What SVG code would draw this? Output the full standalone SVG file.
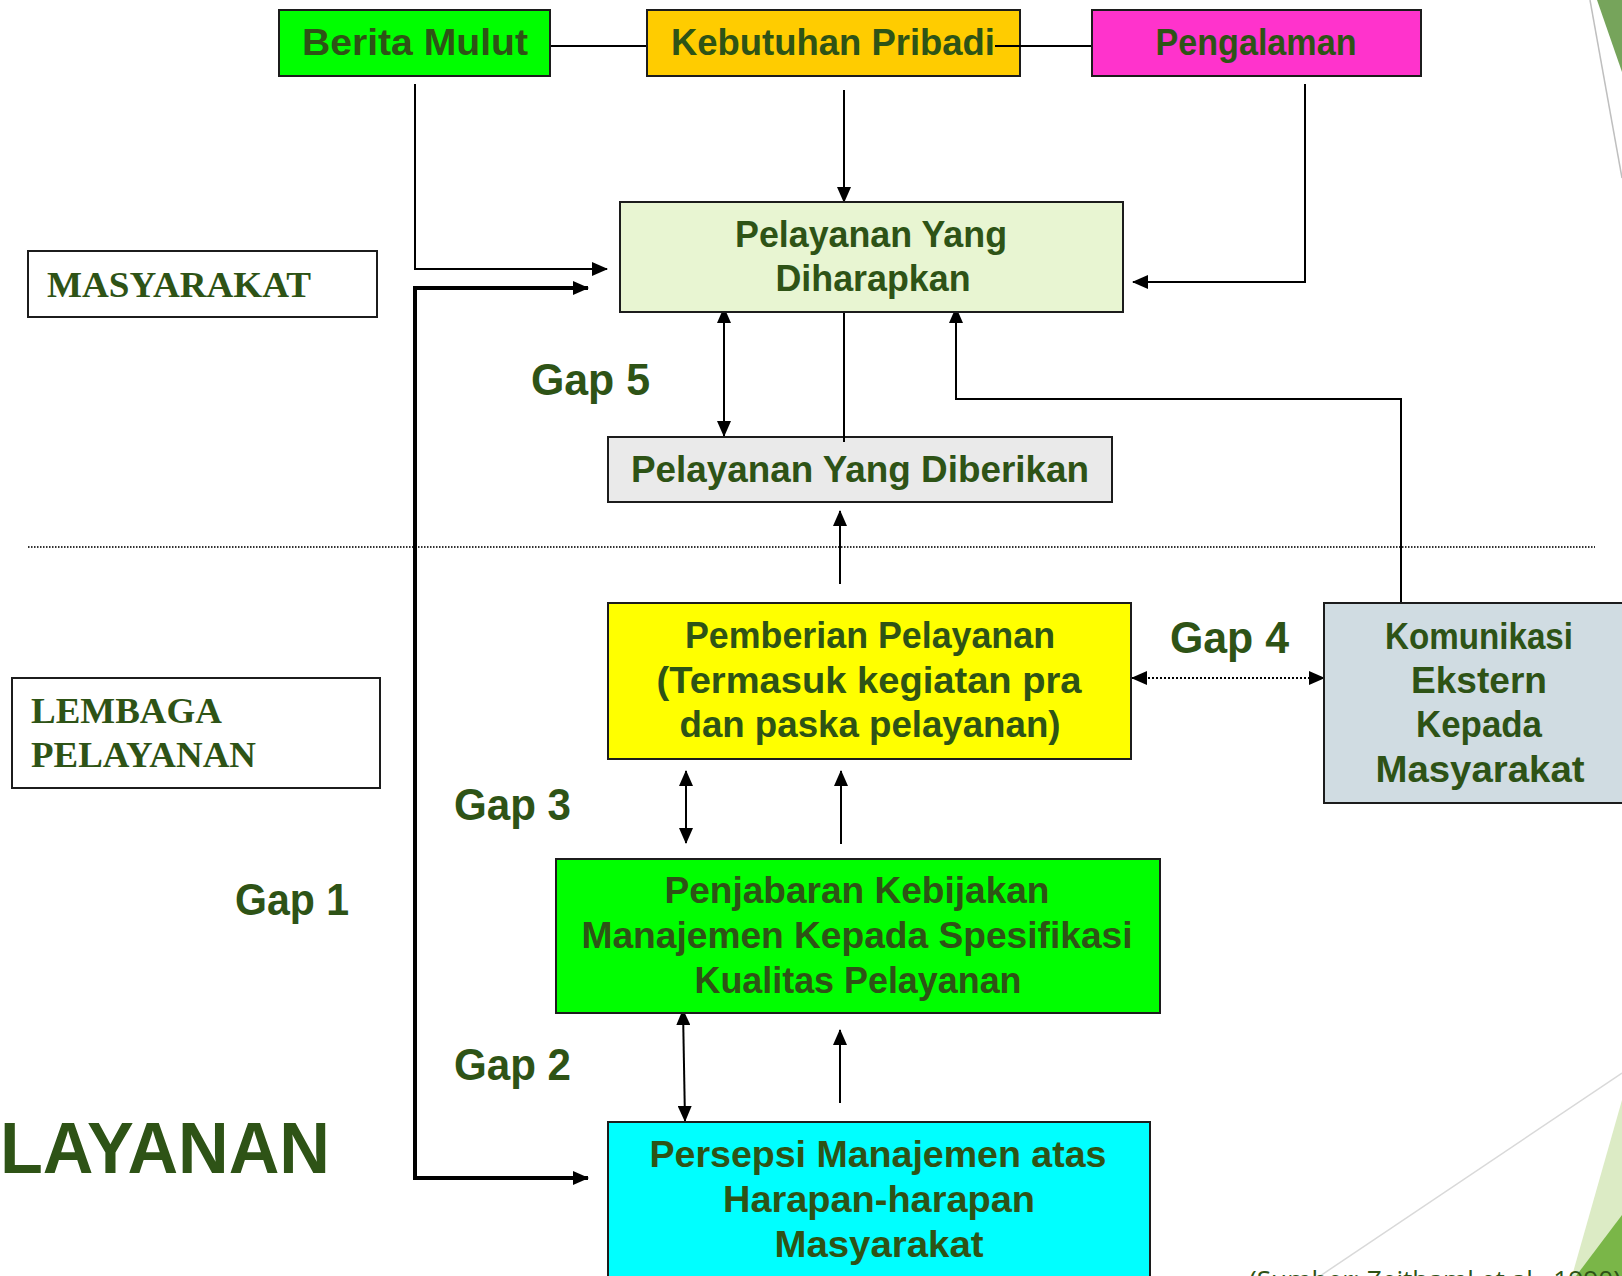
<svg xmlns="http://www.w3.org/2000/svg" width="1622" height="1276" viewBox="0 0 1622 1276">
<style>
.box{stroke:#1c1c1c;stroke-width:2}
.t{font-family:"Liberation Sans",Arial,sans-serif;font-weight:bold;font-size:37px;fill:#2E5316;text-anchor:middle}
.gap{font-family:"Liberation Sans",Arial,sans-serif;font-weight:bold;font-size:44px;fill:#2E5316}
.serif{font-family:"Liberation Serif","Times New Roman",serif;font-weight:bold;font-size:36px;fill:#2E5316}
.c{fill:none;stroke:#000;stroke-width:2}
.thick{fill:none;stroke:#000;stroke-width:4}
</style>
<defs>
<marker id="ah" viewBox="0 0 16 14" refX="15" refY="7" markerWidth="16" markerHeight="14" markerUnits="userSpaceOnUse" orient="auto-start-reverse">
<path d="M0,0 L16,7 L0,14 z" fill="#000"/>
</marker>
</defs>
<rect width="1622" height="1276" fill="#fff"/>
<g id="decor">
<polygon points="1597,0 1622,0 1622,72" fill="#76A45B"/>
<line x1="1590" y1="0" x2="1622" y2="178" stroke="#BFBFBF" stroke-width="1.5"/>
<polygon points="1622,1100 1572,1276 1622,1276" fill="#DCEBC5"/>
<polygon points="1622,1215 1576,1276 1622,1276" fill="#7AB648"/>
<line x1="1622" y1="1073" x2="1320" y2="1276" stroke="#D9D9D9" stroke-width="1.5"/>
</g>
<g id="separator">
<line x1="28" y1="547" x2="1595" y2="547" stroke="#333" stroke-width="2" stroke-dasharray="1.5 1.5"/>
</g>
<g id="connectors">
<line class="c" x1="550" y1="46" x2="647" y2="46"/>
<path class="c" d="M415,84 V269 H607" marker-end="url(#ah)"/>
<path class="thick" d="M588,288 H415 V1178 H588" marker-start="url(#ah)" marker-end="url(#ah)"/>
<path class="c" d="M844,90 V202" marker-end="url(#ah)"/>
<path class="c" d="M1305,84 V282 H1133" marker-end="url(#ah)"/>
<path class="c" d="M724,308 V436" marker-start="url(#ah)" marker-end="url(#ah)"/>
<path class="c" d="M844,312 V442"/>
<path class="c" d="M1401,603 V399 H956 V308" marker-end="url(#ah)"/>
<path class="c" d="M840,584 V511" marker-end="url(#ah)"/>
<path class="c" d="M1132,678 H1324" stroke-dasharray="2 2" marker-start="url(#ah)" marker-end="url(#ah)"/>
<path class="c" d="M686,771 V843" marker-start="url(#ah)" marker-end="url(#ah)"/>
<path class="c" d="M841,844 V771" marker-end="url(#ah)"/>
<path class="c" d="M683,1010 L685,1121" marker-start="url(#ah)" marker-end="url(#ah)"/>
<path class="c" d="M840,1103 V1030" marker-end="url(#ah)"/>
</g>
<g id="berita-mulut">
<rect class="box" x="279" y="10" width="271" height="66" fill="#00FF00"/>
<text class="t" x="415" y="55" textLength="226" lengthAdjust="spacingAndGlyphs">Berita Mulut</text>
</g>
<g id="kebutuhan-pribadi">
<rect class="box" x="647" y="10" width="373" height="66" fill="#FFCC00"/>
<text class="t" x="833" y="55" textLength="324" lengthAdjust="spacingAndGlyphs">Kebutuhan Pribadi</text>
</g>
<line class="c" x1="995" y1="46" x2="1092" y2="46"/>
<g id="pengalaman">
<rect class="box" x="1092" y="10" width="329" height="66" fill="#FF33CC"/>
<text class="t" x="1256" y="55" textLength="201" lengthAdjust="spacingAndGlyphs">Pengalaman</text>
</g>
<g id="masyarakat-label">
<rect class="box" x="28" y="251" width="349" height="66" fill="#fff"/>
<text class="serif" x="47" y="297" textLength="264" lengthAdjust="spacingAndGlyphs">MASYARAKAT</text>
</g>
<g id="pelayanan-diharapkan">
<rect class="box" x="620" y="202" width="503" height="110" fill="#E8F5D2"/>
<text class="t" x="871" y="247" textLength="272" lengthAdjust="spacingAndGlyphs">Pelayanan Yang</text>
<text class="t" x="873" y="291" textLength="195" lengthAdjust="spacingAndGlyphs">Diharapkan</text>
</g>
<g id="pelayanan-diberikan">
<rect class="box" x="608" y="437" width="504" height="65" fill="#EAEAEA"/>
<text class="t" x="860" y="482" textLength="458" lengthAdjust="spacingAndGlyphs">Pelayanan Yang Diberikan</text>
</g>
<line class="c" x1="844" y1="432" x2="844" y2="442"/>
<g id="gap5"><text class="gap" x="531" y="395" textLength="119" lengthAdjust="spacingAndGlyphs">Gap 5</text></g>
<g id="pemberian-pelayanan">
<rect class="box" x="608" y="603" width="523" height="156" fill="#FFFF00"/>
<text class="t" x="870" y="648" textLength="370" lengthAdjust="spacingAndGlyphs">Pemberian Pelayanan</text>
<text class="t" x="869" y="693" textLength="425" lengthAdjust="spacingAndGlyphs">(Termasuk kegiatan pra</text>
<text class="t" x="870" y="737" textLength="381" lengthAdjust="spacingAndGlyphs">dan paska pelayanan)</text>
</g>
<g id="gap4"><text class="gap" x="1170" y="653" textLength="119" lengthAdjust="spacingAndGlyphs">Gap 4</text></g>
<g id="komunikasi-eksternal">
<rect class="box" x="1324" y="603" width="312" height="200" fill="#D0DCE2"/>
<text class="t" x="1479" y="649" textLength="188" lengthAdjust="spacingAndGlyphs">Komunikasi</text>
<text class="t" x="1479" y="693" textLength="136" lengthAdjust="spacingAndGlyphs">Ekstern</text>
<text class="t" x="1479" y="737" textLength="126" lengthAdjust="spacingAndGlyphs">Kepada</text>
<text class="t" x="1480" y="782" textLength="209" lengthAdjust="spacingAndGlyphs">Masyarakat</text>
</g>
<g id="lembaga-label">
<rect class="box" x="12" y="678" width="368" height="110" fill="#fff"/>
<text class="serif" x="31" y="723" textLength="191" lengthAdjust="spacingAndGlyphs">LEMBAGA</text>
<text class="serif" x="31" y="767" textLength="225" lengthAdjust="spacingAndGlyphs">PELAYANAN</text>
</g>
<g id="gap3"><text class="gap" x="454" y="820" textLength="117" lengthAdjust="spacingAndGlyphs">Gap 3</text></g>
<g id="gap1"><text class="gap" x="235" y="915" textLength="114" lengthAdjust="spacingAndGlyphs">Gap 1</text></g>
<g id="penjabaran-kebijakan">
<rect class="box" x="556" y="859" width="604" height="154" fill="#00FF00"/>
<text class="t" x="857" y="903" textLength="385" lengthAdjust="spacingAndGlyphs">Penjabaran Kebijakan</text>
<text class="t" x="857" y="948" textLength="551" lengthAdjust="spacingAndGlyphs">Manajemen Kepada Spesifikasi</text>
<text class="t" x="858" y="993" textLength="327" lengthAdjust="spacingAndGlyphs">Kualitas Pelayanan</text>
</g>
<g id="gap2"><text class="gap" x="454" y="1080" textLength="117" lengthAdjust="spacingAndGlyphs">Gap 2</text></g>
<g id="title-fragment">
<text x="0" y="1173" font-family="'Liberation Sans',Arial,sans-serif" font-weight="bold" font-size="72" fill="#2E5316" textLength="330" lengthAdjust="spacingAndGlyphs">LAYANAN</text>
</g>
<g id="persepsi-manajemen">
<rect class="box" x="608" y="1122" width="542" height="170" fill="#00FFFF"/>
<text class="t" x="878" y="1167" textLength="457" lengthAdjust="spacingAndGlyphs">Persepsi Manajemen atas</text>
<text class="t" x="879" y="1212" textLength="312" lengthAdjust="spacingAndGlyphs">Harapan-harapan</text>
<text class="t" x="879" y="1257" textLength="209" lengthAdjust="spacingAndGlyphs">Masyarakat</text>
</g>
<g id="source">
<text x="1249" y="1289" font-family="'Open Sans','Liberation Sans',sans-serif" font-size="26" fill="#2E5316" textLength="372" lengthAdjust="spacingAndGlyphs">(Sumber: Zeithaml et al., 1990)</text>
</g>
</svg>
